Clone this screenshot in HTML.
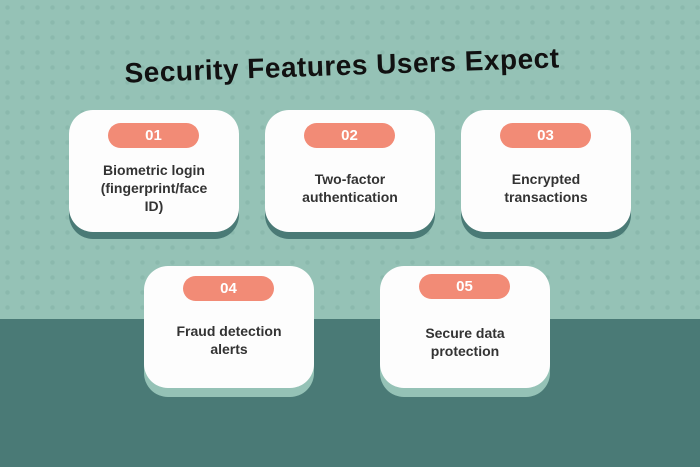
<!DOCTYPE html>
<html><head><style>
body{margin:0}
#c{position:relative;width:700px;height:467px;overflow:hidden;background:#95c2b6;font-family:"Liberation Sans",sans-serif}
#band{position:absolute;left:0;top:319px;width:700px;height:148px;background:#4a7a76}
#dots{position:absolute;left:0;top:0;width:700px;height:319px;background-image:radial-gradient(circle,#86b5a9 2px,transparent 2.5px);background-size:15px 15px;opacity:.7}
h1{position:absolute;left:-8px;width:700px;top:50px;margin:0;text-align:center;font-size:28px;font-weight:900;color:#111;transform:rotate(-2deg);letter-spacing:0.5px}
.card{position:absolute;width:170px;height:122px;background:#fdfdfd;border-radius:24px;text-align:center}
.top{box-shadow:0 7px 0 #4a7a76}
.bot{box-shadow:0 9px 0 #95c2b6}
.pill{position:absolute;left:39px;top:13px;width:91px;height:25px;border-radius:13px;background:#f28b76;color:#fff;font-weight:bold;font-size:15px;line-height:25px}
.t{position:absolute;left:0;width:170px;font-weight:bold;font-size:14px;line-height:18px;color:#333}
</style></head><body><div id="c">
<div id="dots"></div><div id="band"></div>
<h1>Security Features Users Expect</h1>
<div class="card top" style="left:69px;top:110px"><div class="pill">01</div><div class="t" style="top:51px">Biometric login<br>(fingerprint/face<br>ID)</div></div>
<div class="card top" style="left:265px;top:110px"><div class="pill">02</div><div class="t" style="top:60px">Two-factor<br>authentication</div></div>
<div class="card top" style="left:461px;top:110px"><div class="pill">03</div><div class="t" style="top:60px">Encrypted<br>transactions</div></div>
<div class="card bot" style="left:144px;top:266px"><div class="pill" style="top:10px">04</div><div class="t" style="top:56px">Fraud detection<br>alerts</div></div>
<div class="card bot" style="left:380px;top:266px"><div class="pill" style="top:8px">05</div><div class="t" style="top:58px">Secure data<br>protection</div></div>
</div></body></html>
